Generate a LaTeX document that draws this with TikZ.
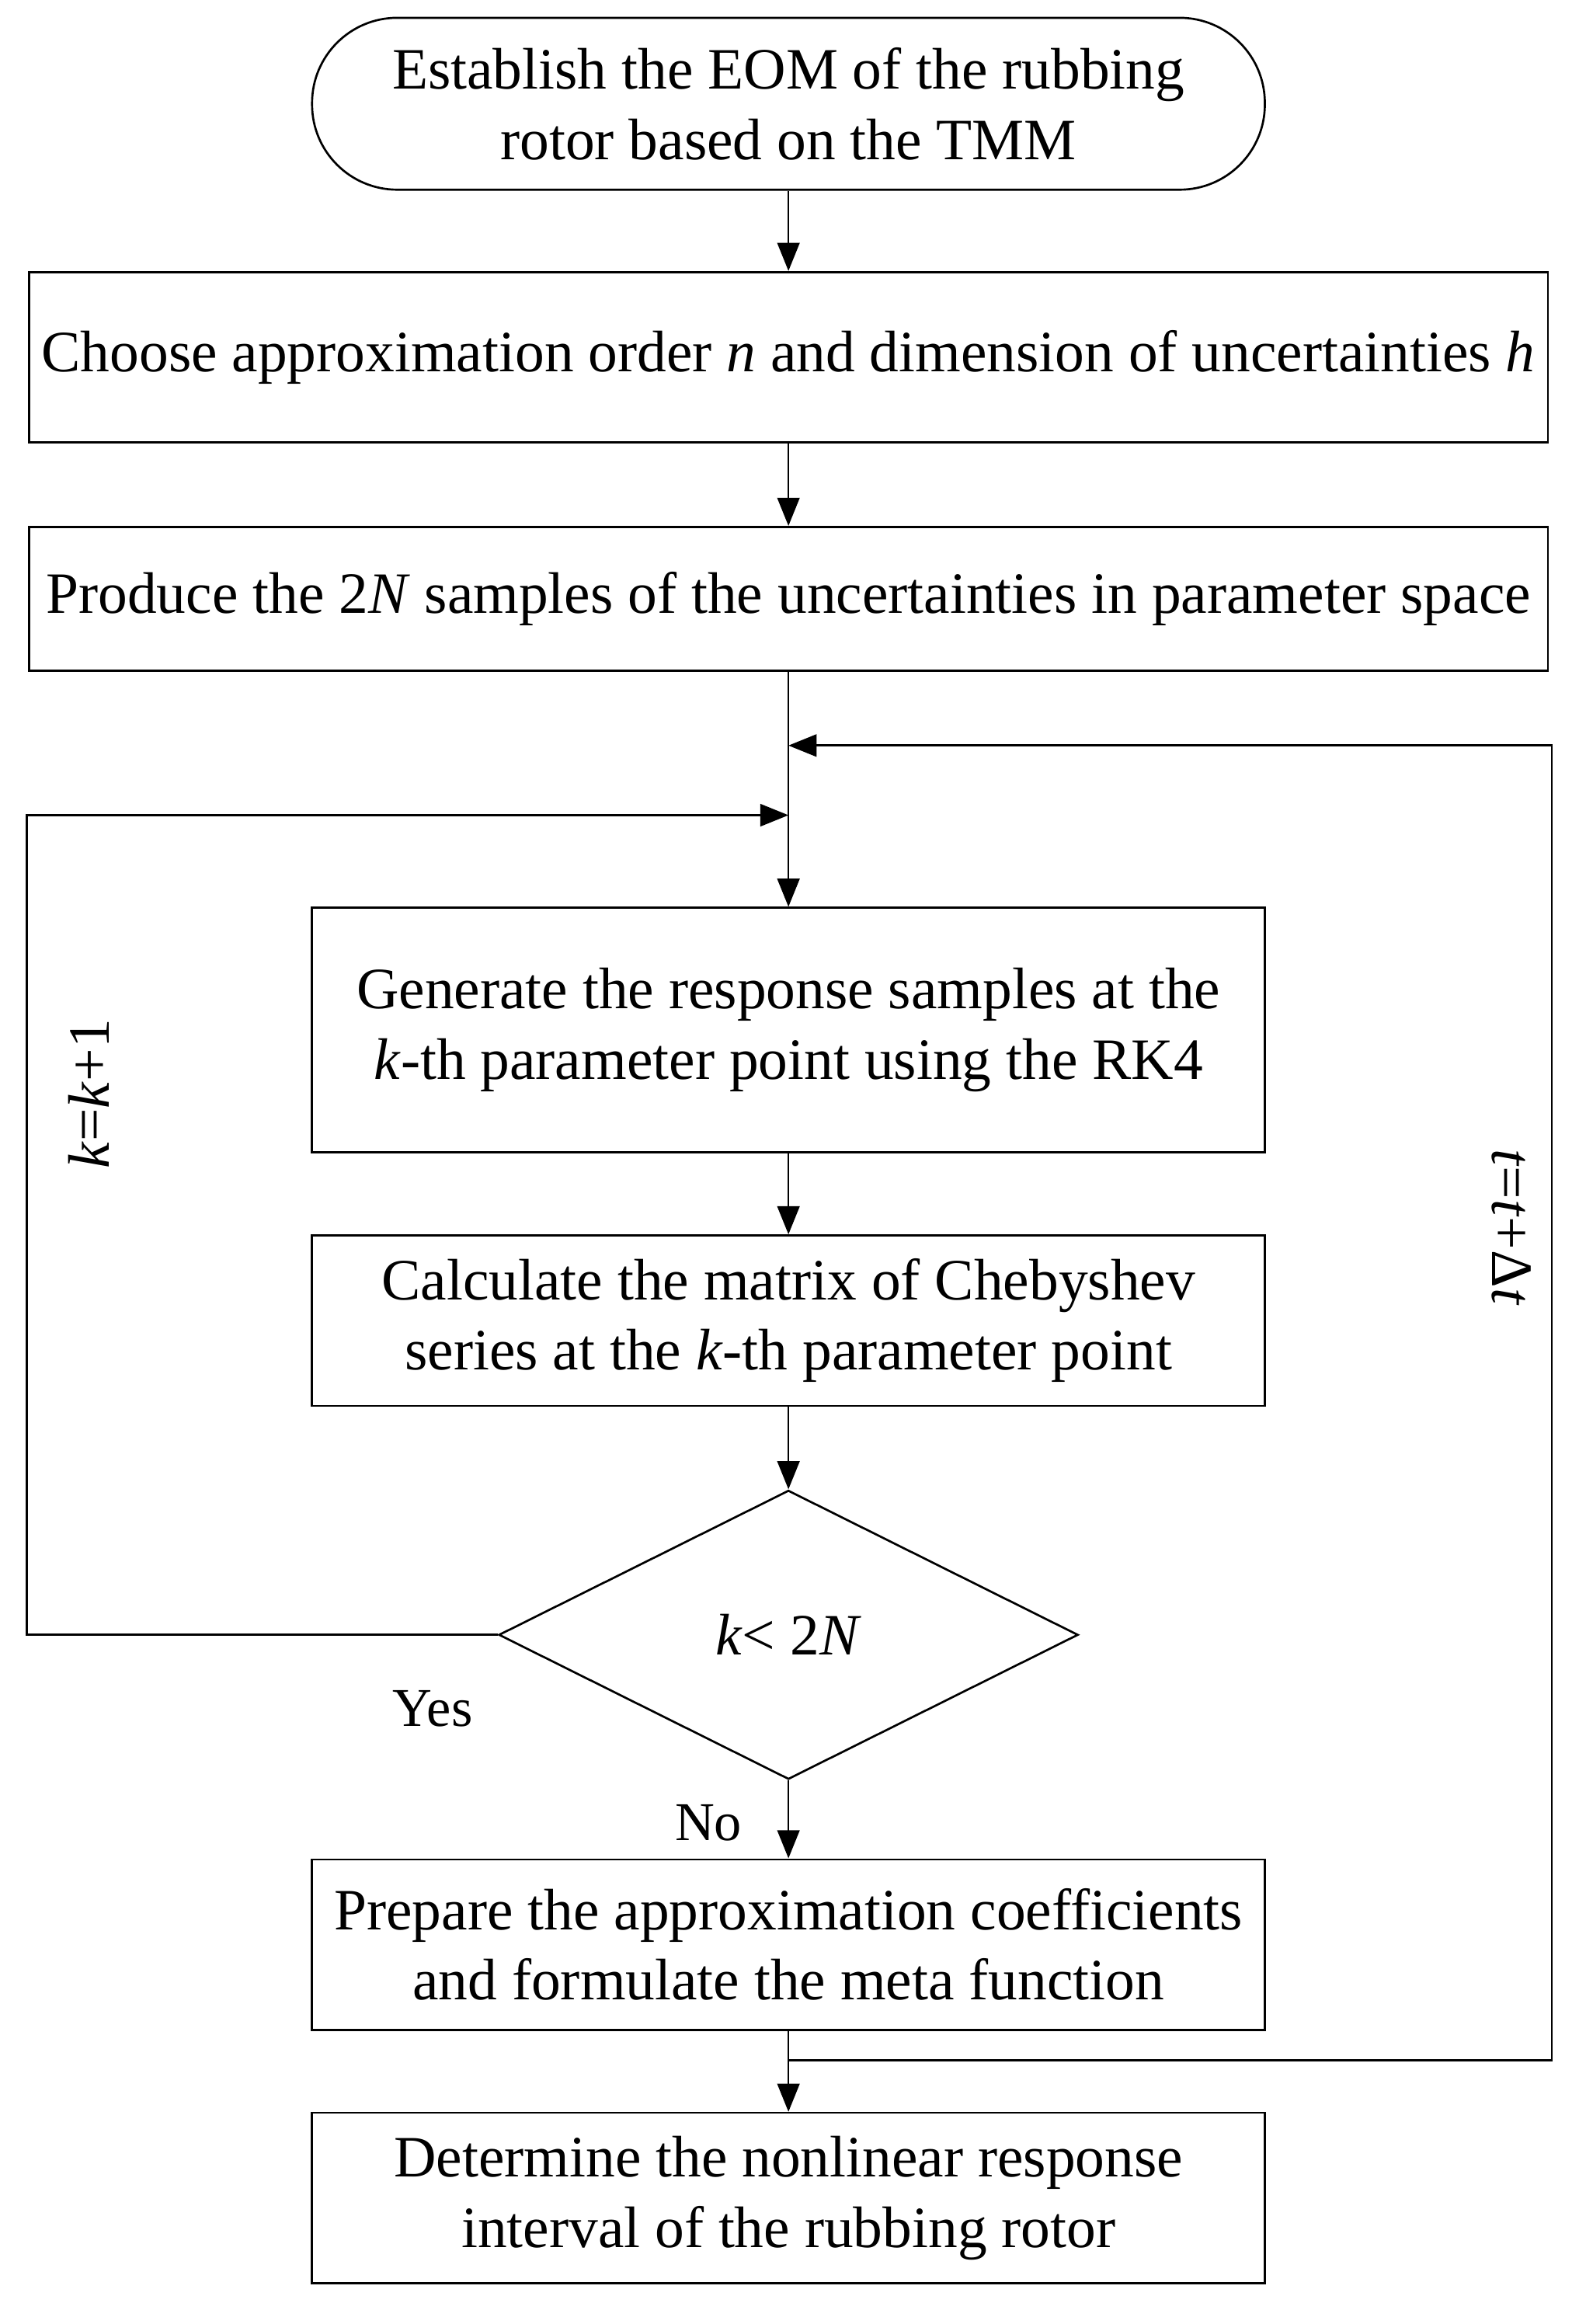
\documentclass[tikz,border=0pt]{standalone}
\usepackage{fontspec}
\setmainfont{Liberation Serif}
\usetikzlibrary{shapes.geometric,arrows.meta}
\tikzset{
  box/.style={draw, thick, align=center, minimum width=12.86cm, minimum height=2.3cm},
  wide/.style={draw, thick, align=center, minimum width=20.5cm},
  term/.style={draw, thick, rounded corners=1.15cm, align=center, minimum width=12.86cm, minimum height=2.32cm},
  dec/.style={draw, thick, diamond, aspect=2, minimum width=7.82cm, minimum height=3.9cm, inner sep=0pt},
  arr/.style={thick, -{Triangle[length=0.38cm, width=0.3cm]}},
  lbl/.style={font=\fontsize{21}{25}\selectfont}
}
\begin{document}
\begin{tikzpicture}[x=0.02cm, y=-0.02cm, font=\fontsize{22.5}{27}\selectfont]
  \useasboundingbox (0,0) rectangle (1070,1568);

  \node[term] (eom) at (532,70) {Establish the EOM of the rubbing\\rotor based on the TMM};
  \node[wide, minimum height=2.3cm] (order) at (532,241) {Choose approximation order \textit{n} and dimension of uncertainties \textit{h}};
  \node[wide, minimum height=1.94cm] (samp) at (532,404) {Produce the 2\textit{N} samples of the uncertainties in parameter space};
  \node[box, minimum height=3.3cm] (resp) at (532,695) {Generate the response samples at the\\\textit{k}-th parameter point using the RK4};
  \node[box] (cheb) at (532,891) {Calculate the matrix of Chebyshev\\series at the \textit{k}-th parameter point};
  \node[dec] (cond) at (532,1103) {\textit{k}< 2\textit{N}};
  \node[box] (meta) at (532,1312) {Prepare the approximation coefficients\\and formulate the meta function};
  \node[box] (intv) at (532,1483) {Determine the nonlinear response\\interval of the rubbing rotor};

  \coordinate (jt) at (532,503);
  \coordinate (jk) at (532,550);
  \coordinate (out) at (532,1390);

  \draw[arr] (eom) -- (order);
  \draw[arr] (order) -- (samp);
  \draw[arr] (samp) -- (resp);
  \draw[arr] (resp) -- (cheb);
  \draw[arr] (cheb) -- (cond);
  \draw[arr] (cond) -- (meta);
  \draw[arr] (meta) -- (intv);
  \draw[arr] (cond.west) -| (18,550) -- (jk);
  \draw[arr] (out) -| (1047,503) -- (jt);

  \node[rotate=90] (kk) at (60,738) {\textit{k}=\textit{k}+1};
  \node[rotate=-90] (tt) at (1020,828) {\textit{t}=\textit{t}+Δ\textit{t}};
  \node[lbl] (yes) at (292,1153) {Yes};
  \node[lbl] (no) at (478,1230) {No};
\end{tikzpicture}
\end{document}
